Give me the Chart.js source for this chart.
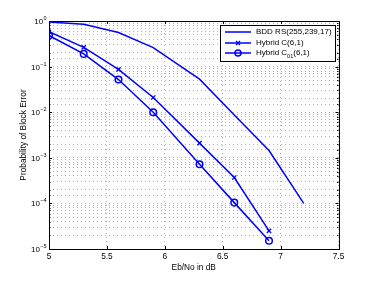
<!DOCTYPE html>
<html><head><meta charset="utf-8">
<script src="https://cdn.jsdelivr.net/npm/chart.js@4/dist/chart.umd.min.js"></script>
<style>html,body{margin:0;padding:0;background:#fff}#wrap{width:374px;height:281px}</style>
</head><body><div id="wrap"><canvas id="c" width="374" height="281"></canvas></div>
<script>
const ebno = [5, 5.3, 5.6, 5.9, 6.3, 6.6, 6.9, 7.2];
const ebnoHybrid = [5, 5.3, 5.6, 5.9, 6.3, 6.6, 6.9];
const bddRS = [0.95, 0.85, 0.56, 0.26, 0.053, 0.0087, 0.00144, 0.0001];
const hybridC = [0.58, 0.265, 0.087, 0.021, 0.0021, 0.00037, 0.000025];
const hybridC01 = [0.48, 0.19, 0.052, 0.01, 0.00072, 0.000104, 0.0000152];
const xTicks = [5, 5.5, 6, 6.5, 7, 7.5];
const yExponents = [0, -1, -2, -3, -4, -5];
const seriesNames = ['BDD RS(255,239,17)', 'Hybrid C(6,1)', ['Hybrid C', '01', '(6,1)']];

const BLUE = '#0000ff';
const FONT = '"Liberation Sans", Arial, sans-serif';
const pts = (xs, ys) => xs.map((x, i) => ({x, y: ys[i]}));

const overlay = {
  id: 'overlay',
  afterDraw(chart) {
    const {ctx, chartArea: a, scales: {x, y}} = chart;
    ctx.save();
    ctx.strokeStyle = '#000'; ctx.lineWidth = 1;
    ctx.strokeRect(Math.round(a.left) + 0.5, Math.round(a.top) + 0.5,
      Math.round(a.right) - Math.round(a.left), Math.round(a.bottom) - Math.round(a.top));
    ctx.beginPath();
    xTicks.forEach(v => {
      const px = Math.round(x.getPixelForValue(v)) + 0.5;
      ctx.moveTo(px, a.bottom); ctx.lineTo(px, a.bottom - 3);
      ctx.moveTo(px, a.top); ctx.lineTo(px, a.top + 3);
    });
    y.ticks.forEach(t => {
      const v = t.value;
      const e = Math.log10(v);
      const major = Math.abs(e - Math.round(e)) < 1e-9;
      const len = major ? 3 : 1.5;
      const py = Math.round(y.getPixelForValue(v)) + 0.5;
      ctx.moveTo(a.left, py); ctx.lineTo(a.left + len, py);
      ctx.moveTo(a.right, py); ctx.lineTo(a.right - len, py);
    });
    ctx.stroke();
    ctx.fillStyle = '#000';
    ctx.font = '8.3px ' + FONT;
    ctx.textAlign = 'center'; ctx.textBaseline = 'middle';
    xTicks.forEach(v => ctx.fillText(String(v), x.getPixelForValue(v), 257));
    ctx.fillText('Eb/No in dB', (a.left + a.right) / 2, 267.5);
    yExponents.forEach(e => {
      const py = y.getPixelForValue(Math.pow(10, e));
      const ex = e === 0 ? '0' : '\u2212' + Math.abs(e);
      ctx.font = '5.5px ' + FONT;
      const ew = ctx.measureText(ex).width;
      const exStart = 46.5 - ew;
      ctx.textAlign = 'left';
      ctx.fillText(ex, exStart, py - 2.5);
      ctx.font = '8px ' + FONT;
      ctx.textAlign = 'right';
      ctx.fillText('10', exStart - 0.3, py + 0.8);
    });
    ctx.save();
    ctx.translate(23.5, (a.top + a.bottom) / 2);
    ctx.rotate(-Math.PI / 2);
    ctx.textAlign = 'center';
    ctx.font = '8.3px ' + FONT;
    ctx.fillText('Probability of Block Error', 0, 0);
    ctx.restore();
    const lx = 220.5, ly = 25.5, lw = 115, lh = 36;
    ctx.fillStyle = '#fff';
    ctx.fillRect(lx, ly, lw, lh);
    ctx.strokeStyle = '#000'; ctx.lineWidth = 1;
    ctx.strokeRect(lx, ly, lw, lh);
    const rows = [32, 43, 53];
    chart.data.datasets.forEach((ds, i) => {
      const ry = rows[i];
      ctx.strokeStyle = BLUE; ctx.lineWidth = 1.5;
      ctx.beginPath(); ctx.moveTo(225, ry); ctx.lineTo(251, ry); ctx.stroke();
      if (ds.pointStyle === 'crossRot') {
        ctx.lineWidth = 1.3;
        ctx.beginPath();
        ctx.moveTo(236, ry - 2); ctx.lineTo(240, ry + 2);
        ctx.moveTo(240, ry - 2); ctx.lineTo(236, ry + 2);
        ctx.stroke();
      } else if (ds.pointStyle === 'circle') {
        ctx.lineWidth = 1.5;
        ctx.beginPath(); ctx.arc(238, ry, 3, 0, Math.PI * 2); ctx.stroke();
      }
      ctx.fillStyle = '#000';
      ctx.textAlign = 'left'; ctx.textBaseline = 'middle';
      const nm = seriesNames[i];
      if (Array.isArray(nm)) {
        ctx.font = '8px ' + FONT;
        let cx = 256;
        ctx.fillText(nm[0], cx, ry); cx += ctx.measureText(nm[0]).width;
        ctx.font = '5.5px ' + FONT;
        ctx.fillText(nm[1], cx, ry + 3); cx += ctx.measureText(nm[1]).width;
        ctx.font = '8px ' + FONT;
        ctx.fillText(nm[2], cx, ry);
      } else {
        ctx.font = '8px ' + FONT;
        ctx.fillText(nm, 256, ry);
      }
    });
    ctx.restore();
  }
};

new Chart(document.getElementById('c'), {
  type: 'line',
  data: {
    datasets: [
      {label: 'BDD RS(255,239,17)', data: pts(ebno, bddRS), borderColor: BLUE, borderWidth: 1.5,
       pointRadius: 0, pointStyle: false, fill: false, tension: 0},
      {label: 'Hybrid C(6,1)', data: pts(ebnoHybrid, hybridC), borderColor: BLUE, borderWidth: 1.5,
       pointStyle: 'crossRot', pointRadius: 3, pointBorderWidth: 1.3, pointBorderColor: BLUE,
       pointBackgroundColor: BLUE, fill: false, tension: 0},
      {label: 'Hybrid C01(6,1)', data: pts(ebnoHybrid, hybridC01), borderColor: BLUE, borderWidth: 1.5,
       pointStyle: 'circle', pointRadius: 3.3, pointBorderWidth: 1.5, pointBorderColor: BLUE,
       pointBackgroundColor: 'rgba(0,0,0,0)', fill: false, tension: 0}
    ]
  },
  options: {
    responsive: false, animation: false, devicePixelRatio: 1,
    layout: {padding: {left: 49, right: 35.5, top: 21, bottom: 32}},
    plugins: {legend: {display: false}, tooltip: {enabled: false}},
    scales: {
      x: {type: 'linear', min: 5, max: 7.5,
          afterBuildTicks: s => { s.ticks = xTicks.map(v => ({value: v})); },
          afterFit: s => { s.height = 0; },
          ticks: {display: false},
          grid: {color: '#b4b4b4', lineWidth: 1, drawTicks: false},
          border: {display: false, dash: [1, 3]}},
      y: {type: 'logarithmic', min: 1e-5, max: 1,
          afterFit: s => { s.width = 0; },
          ticks: {display: false, autoSkip: false},
          grid: {color: '#b4b4b4', lineWidth: 1, drawTicks: false},
          border: {display: false, dash: [1, 3]}}
    }
  },
  plugins: [overlay]
});
</script></body></html>
